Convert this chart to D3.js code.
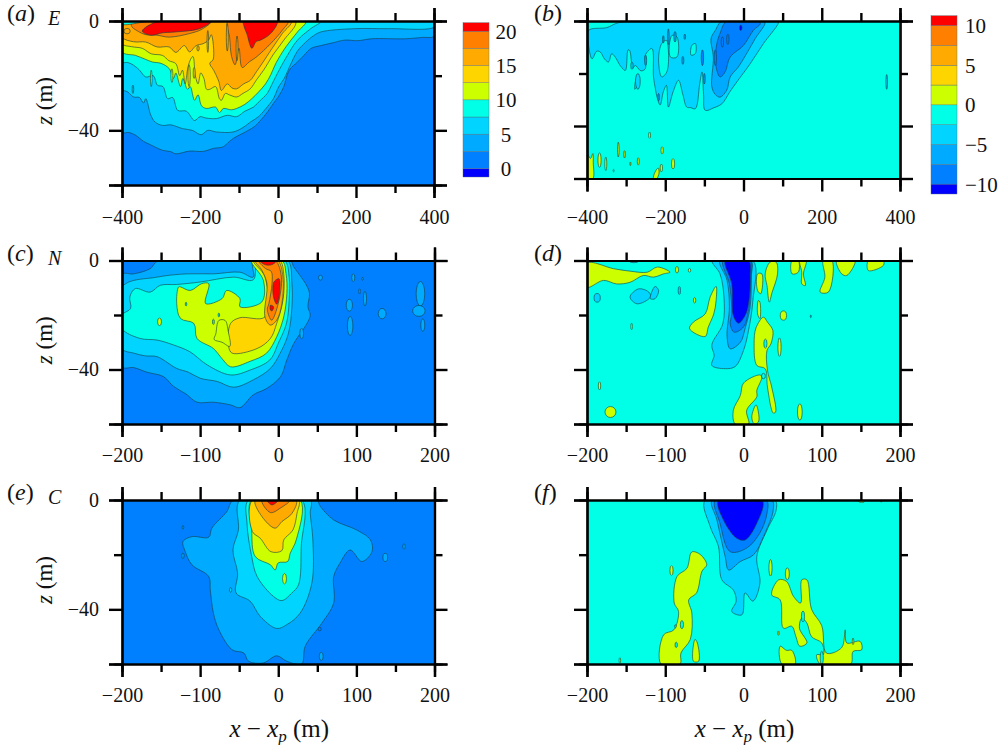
<!DOCTYPE html>
<html>
<head>
<meta charset="utf-8">
<script src="https://cdn.jsdelivr.net/npm/d3@7"></script>
<style>
  html, body { margin: 0; padding: 0; background: #fff; }
  text { font-family: "Liberation Serif", serif; fill: #111; }
</style>
</head>
<body>
<svg id="chart" width="1004" height="745"></svg>
<script>
// band colours, shared by every panel
var bandColors = ["#0000ff", "#0080ff", "#00aaff", "#00d4ff", "#00ffe6", "#ccff00", "#ffd500", "#ffaa00", "#ff8000", "#ff0000"];
var meanLevels = [0, 2.5, 5, 7.5, 10, 12.5, 15, 17.5, 20];
var diffLevels = [-10, -7.5, -5, -2.5, 0, 2.5, 5, 7.5, 10];
var meanTicks = [0, 5, 10, 15, 20];
var diffTicks = [-10, -5, 0, 5, 10];
var wideTicks = [-400, -200, 0, 200, 400];
var wideMinor = [-300, -100, 100, 300];
var narrowTicks = [-200, -100, 0, 100, 200];
var narrowMinor = [-150, -50, 50, 150];
var zTicks = [0, -40, -60];
var zMinor = [-20];

// contour regions: [band value, [[x, z], ...]]
var aContours = [
  [2.5, [[-400,-40.6],[-382,-40.8],[-365,-41.8],[-345,-44],[-331,-45],[-296,-47.3],[-275,-47.8],[-262,-48.6],[-227,-47.6],[-192,-47.7],[-165,-46.6],[-140,-46],[-128,-44.5],[-115,-43],[-80,-40.3],[-60,-38.6],[-45,-36.4],[-28,-33.5],[-11,-30],[2,-27.5],[15,-24],[24,-19.5],[32,-17.4],[50,-15],[67,-12.5],[85,-10],[110,-9],[140,-8],[171,-7],[205,-7.2],[240,-6.5],[327,-6.5],[370,-6],[400,-5.6],[400,0],[-400,0]]],
  [5, [[-400,-24.8],[-385,-26],[-370,-27.8],[-355,-28],[-345,-30],[-339,-28.4],[-326,-34.5],[-315,-37],[-296,-38.2],[-275,-38],[-244,-39.4],[-220,-40],[-197,-41.6],[-180,-40],[-158,-40.6],[-115,-40.6],[-90,-39],[-71,-37],[-50,-35],[-28,-31.5],[-12,-28.5],[2,-24],[16,-21],[32,-16],[50,-11],[67,-8.3],[90,-5.5],[110,-4],[197,-2.8],[283,-2.8],[400,-2.2],[400,0],[-400,0]]],
  [7.5, [[-400,-15],[-385,-15.2],[-370,-16.2],[-355,-18],[-339,-20.5],[-320,-20],[-309,-23.5],[-295,-24],[-283,-28.4],[-270,-28],[-257,-32.7],[-235,-33],[-214,-36.4],[-200,-35],[-185,-35.5],[-158,-35.7],[-130,-34.5],[-106,-35],[-85,-33],[-63,-31.5],[-45,-29],[-28,-26.6],[-15,-23],[-2,-19.3],[24,-12.6],[50,-7],[84,-2.8],[110,0],[-400,0]]],
  [10, [[-400,-11.3],[-365,-12.6],[-340,-14],[-322,-15],[-300,-15.5],[-279,-17.4],[-268,-21],[-262,-19],[-250,-24],[-244,-21],[-232,-25],[-225,-24],[-214,-29],[-205,-27],[-196,-31],[-184,-32],[-160,-31.5],[-150,-33.5],[-140,-32],[-120,-32.5],[-106,-32],[-85,-30.5],[-67,-28.4],[-50,-26],[-32,-23],[-18,-19.5],[-6,-15.6],[20,-9.5],[50,-4],[71,0],[-400,0]]],
  [12.5, [[-400,-8.3],[-375,-9.4],[-348,-10],[-325,-12],[-296,-12.6],[-280,-14.5],[-262,-15.6],[-252,-20],[-245,-18],[-238,-23],[-231,-17],[-224,-14],[-218,-13],[-212,-20],[-205,-23],[-198,-19],[-190,-21],[-183,-25],[-175,-25],[-160,-24],[-150,-28.5],[-145,-29],[-135,-26.5],[-125,-27],[-106,-27.8],[-90,-26.5],[-71,-24.8],[-55,-21.5],[-37,-18],[-11,-12],[15,-7],[45,0],[-400,0]]],
  [15, [[-400,-5.9],[-370,-7.6],[-339,-7.7],[-310,-9.5],[-279,-9.5],[-262,-11.5],[-240,-9],[-227,-11.3],[-210,-9],[-192,-8.3],[-178,-7],[-171,-5],[-166,-14],[-175,-15.5],[-165,-18],[-152,-22],[-145,-25.4],[-130,-23],[-118,-24.5],[-106,-24.8],[-88,-23],[-71,-21.7],[-55,-18.5],[-41,-15.6],[-15,-10],[11,-4.6],[34,0],[-400,0]]],
  [17.5, [[-375,-2],[-362,-3.5],[-339,-5],[-310,-5.2],[-279,-5.9],[-227,-4.6],[-195,-3],[-171,0],[-375,0]]],
  [17.5, [[-128,0],[-124,-6],[-119,-13],[-110,-16],[-100,-10],[-92,-17],[-74,-15],[-54,-13],[-19,-8.3],[11,-3.4],[26,0]]],
  [20, [[-348,-3.7],[-326,-5.2],[-295,-4.3],[-262,-4],[-201,-2.8],[-171,0],[-305,0]]],
  [20, [[-88,0],[-87,-2],[-80,-4.6],[-67,-10],[-56,-7.5],[-45,-7],[-19,-4.6],[-2,0]]],
  [7.5, [[-400,0],[-400,-1.2],[-350,-0.5],[-330,0]]]
];
var aIslands = [
  [15, -180, -7.5, 2, 4], [15, -130, -6, 2.5, 5], [15, -205, -10, 3, 1], [15, -105, -10, 2.5, 4.5],
  [12.5, -228, -20, 3, 4], [12.5, -215, -19, 2.5, 2],
  [15, -387, -3.7, 8, 1], [5, -372, -25, 2, 1.5], [10, -272, -20, 2.5, 2.5], [10, -325, -21, 2, 3]
];

var bContours = [
  [-5, [[-396,-3.6],[-396,-9.3],[-387,-14.4],[-375,-11.5],[-366,-11.8],[-355,-14.5],[-345,-15.6],[-337,-12.5],[-328,-13.7],[-315,-17],[-302,-18.8],[-295,-11],[-291,-11.2],[-283,-18],[-277,-16.9],[-262,-19],[-251,-18.2],[-251,-13],[-234,-10.5],[-230,-21.3],[-225,-26],[-221,-29],[-213,-32],[-205,-27],[-197,-24.5],[-192,-32.8],[-180,-27],[-166,-22.6],[-155,-28],[-145,-32.8],[-135,-33],[-123,-33.4],[-112,-24],[-106,-19.4],[-102,-28],[-98,-34],[-75,-33],[-55,-31.5],[-35,-27],[-17,-23.2],[17,-16.3],[51,-8.6],[89,-0.8],[88,0],[-281,0],[-323,-0.8],[-349,-2.5]]],
  [-7.5, [[-83,-6.7],[-77,-13.7],[-81,-25],[-72,-28],[-60,-29],[-43,-26.4],[-34,-21.3],[-13,-17.5],[8,-12.4],[30,-6.7],[55,-0.8],[51,0],[-55,0],[-72,-3.6]]],
  [-10, [[-60,-4.8],[-68,-8.6],[-72,-15.6],[-60,-21.3],[-47,-19.4],[-34,-13.7],[0,-9.3],[25,-3.6],[43,-1],[38,0],[-43,0]]],
  [-2.5, [[-217,-14.4],[-209,-8.6],[-197,-7.4],[-192,-11.2],[-196,-19.4],[-209,-21.3]]],
  [-2.5, [[-187,-13.7],[-183,-5.5],[-170,-6.1],[-170,-13.7]]],
  [-2.5, [[-134,-13],[-132,-9.3],[-123,-8.6],[-123,-12.4]]],
  [-2.5, [[-270,-24],[-278,-26],[-272,-21],[-266,-21]]],
  [0, [[-400,-50.5],[-391,-52.4],[-385,-50.5],[-384,-54],[-385,-60],[-400,-60]]],
  [0, [[-230,-60],[-226,-57.5],[-218,-56],[-216,-58],[-222,-60]]]
];
var bIslands = [
  [0, -368, -53, 4, 2.8], [0, -352, -54.4, 2.5, 2.6], [0, -320, -49, 2, 2.8], [0, -304, -50.8, 2, 1.4],
  [0, -269, -53.5, 2.5, 1.4], [0, -240, -43.5, 2.5, 1.2], [0, -208, -49.3, 3, 1.4], [0, -180, -54.4, 4, 2],
  [0, -289, -54.4, 1.2, 0.7], [0, -332, -57, 1.2, 0.5], [0, -210, -56, 3, 1.5],
  [-5, 366, -23.2, 2, 2.8], [-11, -7, -2.6, 3, 1], [-5, -285, -17, 3, 1.4], [-5, -270, -23, 6, 3],
  [-10, -105, -14, 3, 3], [-10, -54, -8, 3, 2], [-10, -72, -14, 3, 3], [-10, -40, -7, 3, 2],
  [-7.5, -175, -6, 3, 2], [-7.5, -155, -15, 2.5, 1.5], [-7.5, -150, -6, 2, 1], [-7.5, -205, -7, 2, 1.4],
  [-7.5, -192, -6, 2, 3], [-7.5, -250, -15, 2.5, 2], [-7.5, -217, -29, 2, 1.4], [-7.5, -100, -22, 2, 2]
];

var cContours = [
  [2.5, [[-200,-39],[-185,-39.3],[-168,-41],[-147,-42.6],[-134,-46.2],[-118,-49],[-104,-52],[-83,-52],[-61,-53],[-49,-54],[-32,-49.3],[-15,-47],[3,-42.6],[11,-36.5],[20,-30.4],[37,-23],[41,-20],[38,-17],[40,-12],[35,-8.5],[20,-2.4],[15,0],[-153,0],[-164,-3],[-185,-4.9],[-200,-5.2]]],
  [5, [[-200,-9.7],[-155,-6.1],[-117,-4.9],[-83,-4.9],[-49,-4.3],[-32,-6.1],[-32,0],[12,0],[17.5,-8.5],[17.5,-17],[13,-26.8],[2.5,-34],[-10,-39.6],[-32,-43.8],[-57,-46.5],[-78,-44.4],[-100,-43.2],[-115,-41],[-130,-39.6],[-155,-35.3],[-170,-35],[-185,-34],[-200,-32.3]]],
  [7.5, [[-200,-20],[-189,-17.6],[-190,-13.4],[-183,-10.3],[-164,-11.6],[-151,-9.1],[-130,-8.8],[-100,-7.9],[-57,-6.1],[-32,-7.1],[-26,0],[8,0],[14,-6.1],[14,-14.6],[10.5,-23.1],[0,-30.4],[-10.7,-36.5],[-36,-40.2],[-61,-42],[-91,-38.3],[-113,-33.5],[-134,-31],[-155,-29.2],[-177,-28.6],[-200,-25]]],
  [10, [[-127.5,-9.7],[-130,-15.8],[-125,-21.3],[-108,-23.1],[-104,-28.6],[-83,-32.3],[-72,-36],[-61,-39],[-36,-37],[-15,-34],[-2,-28],[7,-20.7],[11,-12.2],[10,-4.9],[4.7,0],[-34,0],[-19,-7.3],[-21,-15.2],[-49,-17],[-49,-14],[-66,-11],[-72,-14],[-93,-15.8],[-89,-8.5],[-98,-8.5],[-112.6,-11],[-125,-9.7]]],
  [12.5, [[-61,-23.1],[-63.5,-31.6],[-59,-34],[-27,-32.3],[-10,-28.6],[-2,-23.1],[6,-14.6],[7,-4.9],[1.7,0],[-31.6,0],[-17,-6],[-17,-20.7],[-49,-21]]],
  [15, [[-17,-20.7],[-10,-23.7],[-2,-21.9],[4.7,-15.8],[6,-6],[-1,0],[-29.4,0],[-21,-3.6],[-14.5,-8.5]]],
  [17.5, [[-14,-18],[-8.5,-21.9],[0,-15.8],[4,-6],[-4,0],[-25,0],[-16,-3],[-9,-4],[-8,-8.5],[-12,-15.8]]],
  [20, [[-5.5,-7.9],[1,-6.7],[1,-13.4],[-2,-16],[-6,-13.4]]],
  [20, [[-10,-16.4],[-6,-17],[-8,-18.5],[-10,-18.2]]],
  [20, [[-24,0],[-2,0],[-8,-1.5],[-17,-1.5]]],
  [10, [[-76,-22],[-80,-27],[-82,-29],[-72,-30],[-62,-31.5],[-64,-26],[-68,-22]]]
];
var cIslands = [
  [2.5, 91, -16.4, 4, 2.2], [2.5, 92, -24, 3.5, 3.5], [2.5, 133, -19.5, 5, 1.9], [2.5, 96, -6.3, 2, 1.4],
  [2.5, 108, -6.7, 1, 0.5], [2.5, 104, -11.3, 1, 1], [2.5, 111, -14, 2, 2.7], [2.5, 182, -12.2, 5.5, 4.5],
  [2.5, 180, -18.5, 8, 2], [2.5, 185, -23.7, 2.5, 2.3], [2.5, 54, -6.3, 2.5, 0.9], [2.5, 30, -26.8, 2.5, 1.9],
  [10, -152, -22.5, 2.5, 1.4], [7.5, -118, -16, 1, 0.7], [7.5, -83, -22.5, 1.2, 1], [7.5, -76, -20, 1, 0.7]
];

var dContours = [
  [0, [[-200,-1],[-166,-3],[-145,-3.9],[-123,-4.3],[-110,-2.4],[-94,-4.3],[-102,-4.9],[-115,-6.1],[-128,-5.5],[-145,-8],[-162,-8.6],[-179,-7.3],[-200,-9.8]]],
  [0, [[-35,-9.5],[-42.6,-13.4],[-49,-19.6],[-64,-22.6],[-69,-25],[-49,-27.9],[-45,-24.4],[-38,-19.6],[-35,-14.7]]],
  [0, [[25.5,-20.8],[16,-24.7],[13.6,-30.6],[17,-38.5],[27.7,-39.7],[30.6,-46.4],[38,-56],[41,-55.6],[36,-46.4],[30.6,-40.3],[30,-33],[35,-30.6],[37.5,-25.7],[30.6,-22.6]]],
  [0, [[21,-42],[0,-45],[-4,-49.5],[-13,-55],[-10.6,-60],[6.4,-60],[4,-55],[17,-50],[17,-47.7],[23.4,-42.8]]],
  [0, [[16,-53],[10.6,-57.4],[13.6,-59.9],[19,-59.3],[19,-55.6]]],
  [0, [[34,-0.6],[27.7,-4.9],[30,-9.2],[33,-15.3],[36,-12.2],[43.5,-4.9],[41.7,-0.6]]],
  [0, [[18,-4.9],[18,-11],[22,-12.2],[23.5,-4.9]]],
  [0, [[19,-14.7],[18,-19.6],[21,-21.4],[21,-15.3]]],
  [0, [[102,0],[104,-6.1],[98,-11.6],[108.5,-11.6],[113,0]]],
  [0, [[62,0],[62,-4.9],[70,-4.3],[70,0]]],
  [0, [[72,0],[74.5,-4.3],[74.5,-8.6],[79,-9.2],[76.6,-4.9],[80,0]]],
  [0, [[119,0],[125.5,-4.9],[132,-5.5],[142.5,0]]],
  [0, [[159.6,0],[159.6,-3.7],[178.7,-1.8],[178.7,0]]],
  [-5, [[-145,-13.4],[-134,-10.4],[-121,-11.6],[-119,-13.4],[-136,-15.9]]],
  [-5, [[-119,-14],[-113,-9.5],[-108.5,-11],[-113,-14]]],
  [-5, [[-40,0],[-30,-4.9],[-25,-13.4],[-26.4,-23.2],[-40.5,-31],[-37.5,-34.8],[-40.5,-38.5],[-23.4,-39.7],[-10.6,-38.9],[0,-33],[6.4,-25.7],[12,-14.7],[12,0]]],
  [-7.5, [[-30,0],[-21,-7.3],[-18,-17],[-21,-28],[-17,-32.4],[-4,-30],[2,-25],[8.5,-17],[10,-6],[9.4,0]]],
  [-10, [[-26,0],[-18,-8.6],[-15,-19.6],[-17,-23.2],[-12,-26.3],[0,-24.4],[6.4,-18.3],[9.4,-6],[8.5,0]]],
  [-11, [[-23,0],[-15,-8.6],[-13,-20.2],[-6.4,-23],[2,-20.2],[6.4,-15.9],[8.5,-6],[6.4,0]]]
];
var dIslands = [
  [0, 51, -20.2, 4, 1.7], [0, 46, -31.8, 2, 3.4], [0, 72, -55.6, 3, 3], [0, -184, -46, 1.5, 1.5],
  [0, -170, -55.6, 7, 2], [0, -85, -3.4, 2, 1.2], [0, -69, -3.6, 1.5, 0.7], [0, -62.5, -14.6, 1.5, 1],
  [0, -143, -24.2, 1, 1.2], [-2.5, 28, -30.5, 2, 1.7], [-2.5, 25.5, -42.4, 2.5, 1],
  [-5, -187, -13.7, 4, 1.6], [-5, -82, -11, 1.5, 1.5], [-5, -140, -0.2, 6, 0.6], [-5, 86, -20.5, 0.6, 0.5]
];

var eContours = [
  [2.5, [[-57,0],[-66,-4.3],[-85,-10.3],[-89,-13.6],[-110.5,-13.4],[-122,-15.2],[-119,-18.9],[-110.5,-23.7],[-89,-28],[-87,-32.9],[-83,-41.4],[-76,-47.5],[-59,-54.8],[-44,-56],[-38,-59],[-19,-59.6],[-2,-57],[11,-59],[30,-60],[34.5,-53.5],[56,-45],[71,-37.7],[71,-28],[79,-23.1],[92,-18.3],[107,-22.5],[120,-18.9],[118,-14.6],[100.6,-11],[71,-7.3],[54,-2.4],[49,0]]],
  [5, [[-49,0],[-51,-11],[-58,-18.3],[-52,-26.8],[-54,-34],[-36,-37],[-23,-42.6],[-2,-47],[11,-45.6],[28,-41.4],[43,-30.4],[44.3,-14.6],[41,-4.9],[41,0]]],
  [7.5, [[-38,0],[-40,-8.5],[-34,-20.7],[-27,-28],[-6,-35.3],[4.7,-36.8],[17.5,-34],[26,-31],[29.4,-17],[30,0]]],
  [10, [[-34,0],[-34,-11],[-29.4,-20.7],[-10,-23.7],[-4,-25.6],[0,-23],[12,-22.5],[15.3,-19.5],[23,-14.6],[28,0]]],
  [12.5, [[-33,0],[-33,-11.6],[-23,-14],[-9.4,-18.9],[4.7,-18.5],[7,-14.6],[18.7,-11],[24,-4.9],[26,0]]],
  [15, [[-29.4,0],[-21,-6],[-4,-10.3],[4.7,-7.9],[17.5,-4.9],[23,0]]],
  [17.5, [[-21,0],[-10,-4.6],[2.5,-3],[15,0]]],
  [20, [[-14.5,0],[-8,-1.8],[0,0]]]
];
var eIslands = [
  [10, 8, -28.8, 2.5, 1.9], [2.5, 137, -21, 3, 1.5], [2.5, 161, -17, 1.5, 1], [2.5, 55, -57.2, 2.5, 1.5],
  [5, -61, -32.9, 1.5, 0.8], [2.5, -122, -20.4, 1.5, 1], [2.5, -122, -10, 1, 0.7], [0, 53, -47.2, 2, 0.7]
];

var fContours = [
  [-5, [[-49,0],[-42.6,-9.7],[-32,-17],[-27.7,-29.2],[-13,-32.9],[-9.4,-37],[-15,-40.8],[-2,-42],[2,-34],[12,-37],[21,-30.4],[17,-20.7],[30,-11],[41.7,-3.7],[40,0]]],
  [-7.5, [[-40,0],[-34,-7.3],[-23.4,-20.7],[-19,-25.6],[-4,-22.5],[13,-20],[25.5,-13.4],[38,-3.7],[36,0]]],
  [-10, [[-36,0],[-30,-8.5],[-17,-18.9],[4,-17.6],[21,-12],[30,-4.9],[29,0]]],
  [-11, [[-32,0],[-25.6,-7.3],[-8.5,-14],[2,-14.6],[17,-8.5],[24,0]]],
  [0, [[-66,-19],[-72.3,-25],[-85,-28],[-88.5,-37.7],[-83,-40.8],[-89,-47.5],[-102,-49.3],[-105.5,-60],[-81,-60],[-80,-56],[-68,-51],[-66,-41.4],[-70,-36.5],[-60,-34],[-53,-26],[-47,-23.7],[-55,-20]]],
  [0, [[-62,-51],[-64,-59],[-57.4,-59],[-59,-52.3]]],
  [0, [[45,-29.2],[36,-34.7],[46.8,-36.5],[51,-46.9],[61.7,-46.2],[67,-50],[72,-53.5],[81,-52.3],[71.5,-46.9],[74.5,-43.2],[81,-45],[87,-50],[100,-52.3],[102,-56.6],[93.6,-56.6],[98,-60],[137,-60],[140,-55.4],[151,-54.8],[149,-51.7],[132,-52.3],[130,-47.5],[125.5,-54],[106,-56],[100,-46],[87,-40],[81,-29.2],[74.5,-29.2],[73,-37.7],[64,-35.3],[55,-29.8]]],
  [0, [[46.8,-53.5],[49,-60],[66,-60],[61.7,-55],[55,-55]]]
];
var fIslands = [
  [0, -92, -25.8, 2, 1.8], [0, -158, -58.7, 1, 1], [-2.5, -78.7, -45.6, 2, 1.5], [-2.5, -86, -53, 1.5, 1],
  [-2.5, -87, -46.2, 1, 0.6], [0, 56, -27, 2.5, 2.2], [0, 34.5, -24.8, 2, 3], [0, 44.7, -48.7, 0.8, 0.8],
  [0, 140, -51.7, 1, 1.2], [0, 151, -0.4, 4, 0.5], [0, 176, -0.3, 1.5, 0.4], [-2.5, 100, -57.8, 2, 2.5], [-2.5, 76, -42.6, 2, 2]
];

var svg = d3.select("#chart");
svg.append("defs").append("filter").attr("id", "soft")
   .append("feGaussianBlur").attr("stdDeviation", 0.45);

function drawPanel(p) {
    var colour = d3.scaleThreshold().domain(p.levels).range(bandColors);
    var xScale = d3.scaleLinear().domain(p.xDomain).range([p.left, p.right]);
    var zScale = d3.scaleLinear().domain([0, -60]).range([p.top, p.bottom]);
    var line = d3.line().x(function(d) { return xScale(d[0]); }).y(function(d) { return zScale(d[1]); })
                 .curve(d3.curveCatmullRomClosed.alpha(0.5));

    svg.select("defs").append("clipPath").attr("id", "clip" + p.key).append("rect")
       .attr("x", p.left).attr("y", p.top).attr("width", p.right - p.left).attr("height", p.bottom - p.top);

    var g = svg.append("g").attr("clip-path", "url(#clip" + p.key + ")");
    var field = g.append("g").attr("filter", "url(#soft)");
    field.append("rect").attr("x", p.left - 3).attr("y", p.top - 3)
         .attr("width", p.right - p.left + 6).attr("height", p.bottom - p.top + 6)
         .attr("fill", colour(p.background));

    field.selectAll("path").data(p.contours).enter().append("path")
         .attr("d", function(d) { return line(d[1]); })
         .attr("fill", function(d) { return colour(d[0]); })
         .attr("stroke", "#123c44").attr("stroke-width", 0.8).attr("stroke-opacity", 0.75);

    var kx = Math.abs(xScale(1) - xScale(0)), kz = Math.abs(zScale(1) - zScale(0));
    field.selectAll("ellipse").data(p.islands).enter().append("ellipse")
         .attr("cx", function(d) { return xScale(d[1]); })
         .attr("cy", function(d) { return zScale(d[2]); })
         .attr("rx", function(d) { return d[3] * kx; })
         .attr("ry", function(d) { return d[4] * kz; })
         .attr("fill", function(d) { return colour(d[0]); })
         .attr("stroke", "#123c44").attr("stroke-width", 0.8).attr("stroke-opacity", 0.75);

    // frame and ticks
    function axis(gen, x, y, values, size, labelled) {
        var a = svg.append("g").attr("transform", "translate(" + x + "," + y + ")")
            .call(gen.tickValues(values).tickSize(size).tickPadding(p.labelGap)
                     .tickFormat(labelled ? d3.format("") : ""));
        a.selectAll("line").attr("stroke", "#000").attr("stroke-width", 2.4);
        a.select(".domain").attr("stroke", "#000").attr("stroke-width", 2.2);
        a.selectAll("text").attr("font-size", 20).attr("font-family", "Liberation Serif");
        return a;
    }
    axis(d3.axisBottom(xScale).tickSizeOuter(0), 0, p.bottom, p.xTicks, 13, true);
    axis(d3.axisBottom(xScale).tickSizeOuter(0), 0, p.bottom, p.xMinor, 8, false);
    axis(d3.axisTop(xScale).tickSizeOuter(0), 0, p.top, p.xTicks, 13, false);
    axis(d3.axisTop(xScale).tickSizeOuter(0), 0, p.top, p.xMinor, 8, false);
    axis(d3.axisLeft(zScale).tickSizeOuter(0), p.left, 0, zTicks, 13, false);
    axis(d3.axisLeft(zScale).tickSizeOuter(0), p.left, 0, zMinor, 8, false);
    axis(d3.axisRight(zScale).tickSizeOuter(0), p.right, 0, zTicks, 13, false);
    axis(d3.axisRight(zScale).tickSizeOuter(0), p.right, 0, zMinor, 8, false);

    if (p.zLabels) {
        svg.selectAll(null).data(p.zLabels).enter().append("text")
           .attr("x", p.left - 23).attr("y", function(d) { return zScale(d) + 6.5; })
           .attr("text-anchor", "end").attr("font-size", 20)
           .text(function(d) { return d < 0 ? "\u2212" + (-d) : d; });
        svg.append("text").attr("transform", "translate(" + (p.left - 70) + "," + (zScale(-30) - 2) + ") rotate(-90)")
           .attr("text-anchor", "middle").attr("font-size", 23)
           .html('<tspan font-style="italic">z</tspan> (m)');
    }

    svg.append("text").attr("x", p.tagX).attr("y", p.top).attr("font-size", 24)
       .html('(<tspan font-style="italic">' + p.tag + '</tspan>)');
    if (p.name) {
        svg.append("text").attr("x", 48).attr("y", p.top + 4).attr("font-size", 20)
           .attr("font-style", "italic").text(p.name);
    }
    if (p.xLabel) {
        var t = svg.append("text").attr("x", (p.left + p.right) / 2 + 1).attr("y", p.bottom + 73)
           .attr("text-anchor", "middle").attr("font-size", 25);
        t.html('<tspan font-style="italic">x</tspan> \u2212 <tspan font-style="italic">x</tspan><tspan font-style="italic" font-size="17" dy="5">p</tspan><tspan dy="-5"> (m)</tspan>');
    }
}

function drawColourBar(levels, ticks, top, bottom, x0, x1, labelX, anchor) {
    var step = levels[1] - levels[0];
    var lo = levels[0] - step / 2, hi = levels[levels.length - 1] + step / 2;
    var y = d3.scaleLinear().domain([lo, hi]).range([bottom, top]);
    var edges = [lo].concat(levels, [hi]);
    svg.append("g").selectAll("rect").data(bandColors).enter().append("rect")
       .attr("x", x0).attr("width", x1 - x0)
       .attr("y", function(d, i) { return y(edges[i + 1]); })
       .attr("height", function(d, i) { return y(edges[i]) - y(edges[i + 1]); })
       .attr("fill", function(d) { return d; })
       .attr("stroke", "#55707a").attr("stroke-width", 0.4);
    svg.append("g").selectAll("text").data(ticks).enter().append("text")
       .attr("x", labelX).attr("y", function(d) { return y(d) + 7.5; })
       .attr("text-anchor", anchor).attr("font-size", 21)
       .text(function(d) { return d < 0 ? "\u2212" + (-d) : d; });
}

var narrow = { xDomain: [-200, 200], xTicks: narrowTicks, xMinor: narrowMinor };
var wide = { xDomain: [-400, 400], xTicks: wideTicks, xMinor: wideMinor };

drawPanel(Object.assign({ key: "a", tag: "a", tagX: 7, name: "E", left: 122, right: 434, top: 21, bottom: 185, labelGap: 12, levels: meanLevels, background: 1, contours: aContours, islands: aIslands, zLabels: [0, -40] }, wide));
drawPanel(Object.assign({ key: "b", tag: "b", tagX: 534, left: 587, right: 900, top: 21, bottom: 178.5, labelGap: 18, levels: diffLevels, background: -2.5, contours: bContours, islands: bIslands }, wide));
drawPanel(Object.assign({ key: "c", tag: "c", tagX: 7, name: "N", left: 122, right: 434.5, top: 260.5, bottom: 424, labelGap: 11, levels: meanLevels, background: 1, contours: cContours, islands: cIslands, zLabels: [0, -40] }, narrow));
drawPanel(Object.assign({ key: "d", tag: "d", tagX: 534, left: 587, right: 900, top: 260.5, bottom: 424, labelGap: 11, levels: diffLevels, background: -2.5, contours: dContours, islands: dIslands }, narrow));
drawPanel(Object.assign({ key: "e", tag: "e", tagX: 7, name: "C", left: 122, right: 434.5, top: 500, bottom: 664, labelGap: 11, levels: meanLevels, background: 1, contours: eContours, islands: eIslands, zLabels: [0, -40], xLabel: true }, narrow));
drawPanel(Object.assign({ key: "f", tag: "f", tagX: 534, left: 587, right: 900, top: 500, bottom: 664, labelGap: 11, levels: diffLevels, background: -2.5, contours: fContours, islands: fIslands, xLabel: true }, narrow));

drawColourBar(meanLevels, meanTicks, 22.7, 177, 463, 489, 506, "middle");
drawColourBar(diffLevels, diffTicks, 15.7, 194, 931, 957, 965, "start");
</script>
</body>
</html>
